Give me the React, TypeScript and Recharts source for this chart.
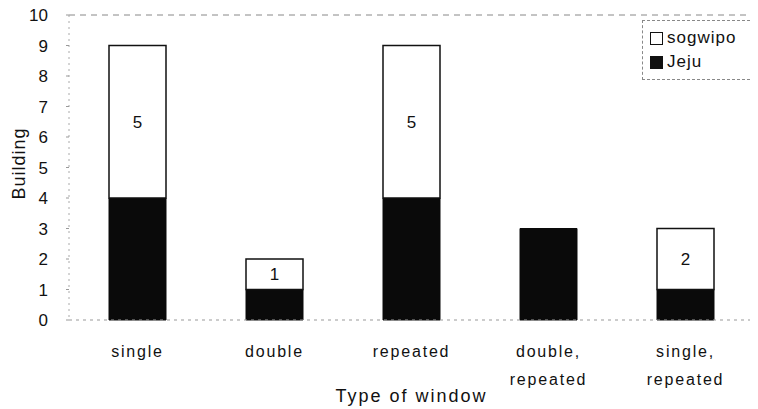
import React from 'react';
import { BarChart, Bar, XAxis, YAxis, LabelList, ReferenceLine } from 'recharts';

const windowTypes = ['single', 'double', 'repeated', 'double,\nrepeated', 'single,\nrepeated'];
const jeju = [4, 1, 4, 3, 1];
const sogwipo = [5, 1, 5, 0, 2];
const yTicks = [0, 1, 2, 3, 4, 5, 6, 7, 8, 9, 10];

const data = windowTypes.map((t, i) => ({ type: t, Jeju: jeju[i], sogwipo: sogwipo[i] }));

const FONT = '"Liberation Sans", Arial, sans-serif';

const XTick = (props: any) => {
  const { x, y, payload } = props;
  const lines = String(payload.value).split('\n');
  return (
    <g transform={`translate(${x},${y})`}>
      {lines.map((l, i) => (
        <text key={i} x={0} y={0} dy={29 + i * 28} textAnchor="middle" fontSize={16} letterSpacing={1.8} fill="#111" fontFamily={FONT}>
          {l}
        </text>
      ))}
    </g>
  );
};

const YTitle = (props: any) => {
  const { viewBox } = props;
  const cy = viewBox.y + viewBox.height / 2 - 4;
  return (
    <text x={25} y={cy} transform={`rotate(-90, 25, ${cy})`} textAnchor="middle" fontSize={18} letterSpacing={1} fill="#111" fontFamily={FONT}>
      Building
    </text>
  );
};

const LegendBox = () => (
  <div style={{ position: 'absolute', left: 642, top: 20, border: '1px dashed #888', width: 104, padding: '5px 0 5px 7px', fontFamily: FONT, fontSize: 17, letterSpacing: 1, color: '#111', background: '#fff' }}>
    <div style={{ display: 'flex', alignItems: 'center', height: 24 }}>
      <span style={{ width: 11, height: 11, border: '1.5px solid #111', background: '#fff', marginRight: 4, display: 'inline-block' }} />
      sogwipo
    </div>
    <div style={{ display: 'flex', alignItems: 'center', height: 24 }}>
      <span style={{ width: 13, height: 13, background: '#111', marginRight: 4, display: 'inline-block' }} />
      Jeju
    </div>
  </div>
);

const sogLabel = (props: any) => {
  const { x, y, width, height, value } = props;
  if (!value) return null;
  return (
    <text x={x + width / 2} y={y + height / 2} dy={6} textAnchor="middle" fontSize={17} fill="#111" fontFamily={FONT}>
      {value}
    </text>
  );
};

export default function App() {
  return (
    <div style={{ width: 758, height: 409, margin: '-8px 0 0 -8px', background: '#fff', position: 'relative' }}>
      <BarChart
        width={758}
        height={409}
        data={data}
        margin={{ top: 15, right: 4, left: 8, bottom: 29 }}
      >
        <XAxis
          dataKey="type"
          tick={<XTick />}
          tickLine={false}
          axisLine={{ stroke: '#999', strokeDasharray: '3 4' }}
          height={60}
          interval={0}
          label={{ value: 'Type of window', position: 'insideBottom', offset: -22, fontSize: 18, letterSpacing: 2, fill: '#111', fontFamily: FONT }}
        />
        <YAxis
          domain={[0, 10]}
          ticks={yTicks}
          width={61}
          interval={0}
          tickLine={{ stroke: '#999' }}
          tickSize={3}
          tickMargin={18}
          axisLine={{ stroke: '#aaa', strokeDasharray: '2 4' }}
          tick={{ fontSize: 17, fill: '#111', fontFamily: FONT }}
          label={<YTitle />}
        />
        <ReferenceLine y={10} stroke="#888" strokeDasharray="6 5" />
        <Bar dataKey="Jeju" stackId="a" fill="#0a0a0a" stroke="#0a0a0a" barSize={57} isAnimationActive={false} />
        <Bar dataKey="sogwipo" stackId="a" fill="#fff" stroke="#111" strokeWidth={1.5} barSize={57} isAnimationActive={false}>
          <LabelList dataKey="sogwipo" content={sogLabel} />
        </Bar>
      </BarChart>
      <LegendBox />
    </div>
  );
}
